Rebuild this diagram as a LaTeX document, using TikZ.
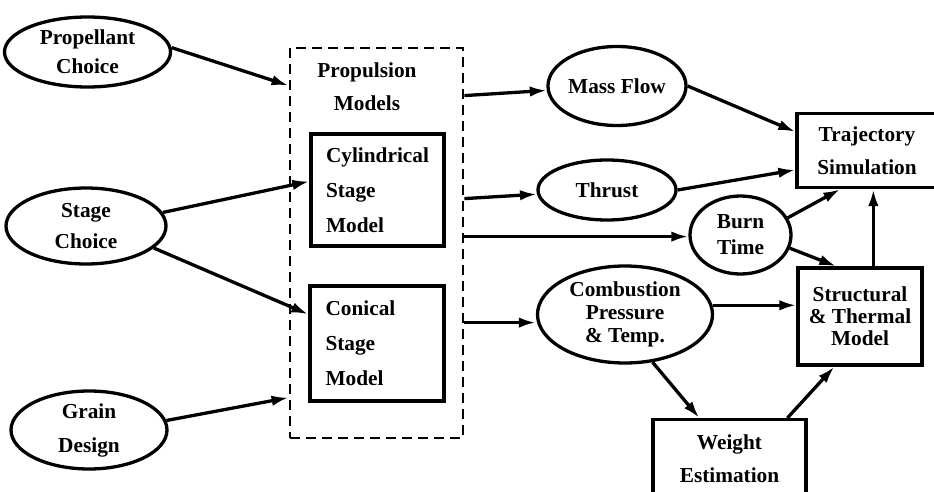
\documentclass[tikz,border=0pt]{standalone}
\usepackage{fontspec}
\setmainfont{Liberation Serif}
\usetikzlibrary{arrows.meta,shapes.geometric,calc}

\begin{document}
\begin{tikzpicture}[x=1pt,y=-1pt,
  txt/.style={font=\fontsize{21.3}{#1}\selectfont\bfseries},
  txt/.default=33,
  oval/.style={draw,ellipse,line width=3.3pt,inner sep=0pt,align=center},
  box/.style={draw,rectangle,line width=3.3pt,inner sep=0pt,align=center},
  stackbox/.style={box,align=left,text width=103pt},
  group/.style={draw,line width=2.8pt,dash pattern=on 10pt off 6pt},
  link/.style={line width=3.3pt,-{Latex[length=17pt,width=10.5pt]}}
]
\useasboundingbox (0,0) rectangle (934,492);

% inputs
\node[oval,txt=29,minimum width=166pt,minimum height=70pt] (prop) at (87.5,52) {Propellant\\Choice};
\node[oval,txt=31,minimum width=160pt,minimum height=76pt] (stage) at (86,226) {Stage\\Choice};
\node[oval,txt=34,minimum width=156pt,minimum height=78pt] (grain) at (89,430) {Grain\\Design};

% propulsion models group
\node[group,minimum width=173pt,minimum height=390pt,inner sep=0pt] (pm) at (376.5,243) {};
\node[txt,align=center] (pmlabel) at (367,87) {Propulsion\\Models};
\node[stackbox,txt=35,minimum width=133pt,minimum height=112pt] (cyl) at (377.5,190) {Cylindrical\\Stage\\Model};
\node[stackbox,txt=35,minimum width=134pt,minimum height=115pt] (con) at (377,343.5) {Conical\\Stage\\Model};

% intermediate quantities
\node[oval,txt,minimum width=138pt,minimum height=79pt] (mass) at (617,86) {Mass Flow};
\node[oval,txt,minimum width=138pt,minimum height=60pt] (thrust) at (607,190) {Thrust};
\node[oval,txt=26,minimum width=101pt,minimum height=78pt] (burn) at (740.5,235) {Burn\\Time};
\node[oval,txt=23,minimum width=175pt,minimum height=97pt] (comb) at (625,314.5) {Combustion\\Pressure\\\& Temp.};

% analysis modules
\node[box,txt=33,minimum width=140pt,minimum height=74pt] (traj) at (867,150.5) {Trajectory\\Simulation};
\node[box,txt=22,minimum width=124pt,minimum height=97pt] (struct) at (860,316.5) {Structural\\\& Thermal\\Model};
\node[box,minimum width=153pt,minimum height=100pt,anchor=north] (weight) at (729.5,418) {};
\node[txt=33,align=center] (weighttext) at (729.5,458.5) {Weight\\Estimation};

% inputs into the propulsion models
\draw[link] (prop.3) -- ($(pm.north west)+(0,39)$);
\draw[link] (stage.10) -- ($(cyl.north west)+(0,49)$);
\draw[link] (stage.-18) -- ($(con.north west)+(0,30)$);
\draw[link] (grain.7) -- ($(pm.north west)+(0,351)$);

% propulsion model outputs
\draw[link] ($(pm.north east)+(0,49)$) -- (mass);
\draw[link] ($(pm.north east)+(0,152)$) -- (thrust);
\draw[link] ($(pm.north east)+(0,190)$) coordinate (o3) -- (o3 -| burn.west);
\draw[link] ($(pm.north east)+(0,276)$) coordinate (o4) -- (o4 -| comb.west);

% into trajectory and structural analysis
\draw[link] (mass.east) -- ($(traj.north west)+(0,20)$);
\draw[link] (thrust.east) -- ($(traj.north west)+(0,58)$);
\draw[link] (burn.20) -- ($(traj.south west)+(45,0)$);
\draw[link] (burn.-15) -- ($(struct.north west)+(40,0)$);
\draw[link] ($(struct.north west)+(77,0)$) coordinate (s1) -- (s1 |- traj.south);
\draw[link] (comb.6) -- (comb.6 -| struct.west);
\draw[link] (comb.-60) -- ($(weight.north west)+(48,0)$);
\draw[link] ($(weight.north west)+(136,0)$) -- ($(struct.south west)+(38,0)$);
\end{tikzpicture}
\end{document}
